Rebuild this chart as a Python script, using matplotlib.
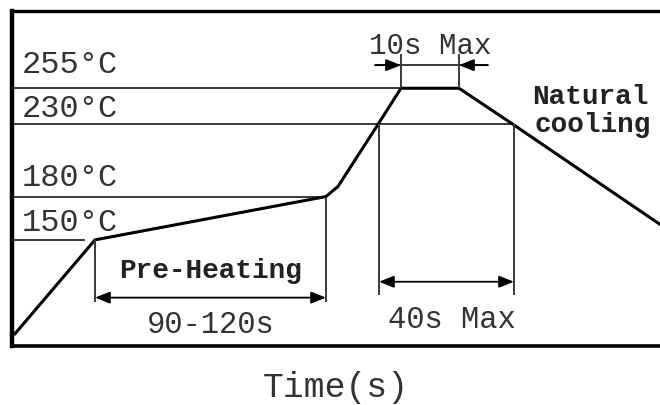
import matplotlib
matplotlib.use("Agg")
import matplotlib.pyplot as plt

# reflow profile (time in arbitrary schematic units, temperature in C)
profile_t = [1.5, 41.5, 157, 163, 183, 194.5, 223.5, 250.5, 329]
profile_T = [85, 150, 180, 187, 230, 255, 255, 230, 156]

levels = [255, 230, 180, 150]
level_labels = ["255°C", "230°C", "180°C", "150°C"]
level_end = [194.5, 250.5, 157, 36.5]
level_label_T = [271.5, 241, 193.5, 162.5]

preheat = (41.5, 157)
reflow = (183.5, 251)
peak = (194.5, 223.5)

mono = ["Liberation Mono", "DejaVu Sans Mono"]
thin = dict(color="#3a3a3a", lw=1.4, solid_capstyle="butt")

fig = plt.figure(figsize=(6.6, 4.06), dpi=100)
ax = fig.add_axes([12 / 660, 59 / 406, 658 / 660, 335 / 406])
ax.set_xlim(0, 329)
ax.set_ylim(76.5, 308.5)
ax.set_xticks([])
ax.set_yticks([])
ax.spines["left"].set_linewidth(3.2)
ax.spines["top"].set_linewidth(2.4)
ax.spines["bottom"].set_linewidth(2.6)
ax.spines["right"].set_visible(False)

# temperature levels
for T, lab, xe, ty in zip(levels, level_labels, level_end, level_label_T):
    ax.plot([0, xe], [T, T], **thin)
    ax.text(5, ty, lab, family=mono, fontsize=23, color="#333333",
            ha="left", va="center")

# profile curve
ax.plot(profile_t, profile_T, color="black", lw=2.2, solid_joinstyle="round")

arrow = dict(arrowstyle="<|-|>,head_length=0.5,head_width=0.2",
             color="black", lw=1.3, shrinkA=0, shrinkB=0, mutation_scale=18)

# pre-heating span
ax.plot([preheat[0]] * 2, [150, 107], **thin)
ax.plot([preheat[1]] * 2, [180, 107], **thin)
ax.annotate("", xy=(preheat[0], 110), xytext=(preheat[1], 110),
            arrowprops=arrow)
ax.text(sum(preheat) / 2, 129, "Pre-Heating", family=mono, fontsize=20,
        fontweight="bold", color="#222222", ha="center", va="center")
ax.text(sum(preheat) / 2, 92, "90-120s", family=mono, fontsize=22,
        color="#333333", ha="center", va="center")

# 40s above 230C
ax.plot([reflow[0]] * 2, [230, 112], **thin)
ax.plot([reflow[1]] * 2, [230, 112], **thin)
ax.annotate("", xy=(reflow[0], 121), xytext=(reflow[1], 121),
            arrowprops=arrow)
ax.text(220, 95, "40s Max", family=mono, fontsize=22, color="#333333",
        ha="center", va="center")

# 10s at peak
ax.plot([peak[0]] * 2, [255, 279], **thin)
ax.plot([peak[1]] * 2, [255, 279], **thin)
ax.plot([181.5, 238], [271, 271], **thin)
one_head = dict(arrowstyle="-|>,head_length=0.5,head_width=0.2",
                color="black", lw=1.3, shrinkA=0, shrinkB=0, mutation_scale=18)
ax.annotate("", xy=(peak[0], 271), xytext=(181.5, 271), arrowprops=one_head)
ax.annotate("", xy=(peak[1], 271), xytext=(238, 271), arrowprops=one_head)
ax.text(209, 285, "10s Max", family=mono, fontsize=21, color="#333333",
        ha="center", va="center")

# natural cooling
ax.text(260, 249.5, "Natural", family=mono, fontsize=20, fontweight="bold",
        color="#222222", ha="left", va="center")
ax.text(261, 230, "cooling", family=mono, fontsize=20, fontweight="bold",
        color="#222222", ha="left", va="center")

fig.text(336 / 660, 1 - 388 / 406, "Time(s)", family=mono, fontsize=25,
         color="#333333", ha="center", va="center")

fig.savefig("out.png", dpi=100)
